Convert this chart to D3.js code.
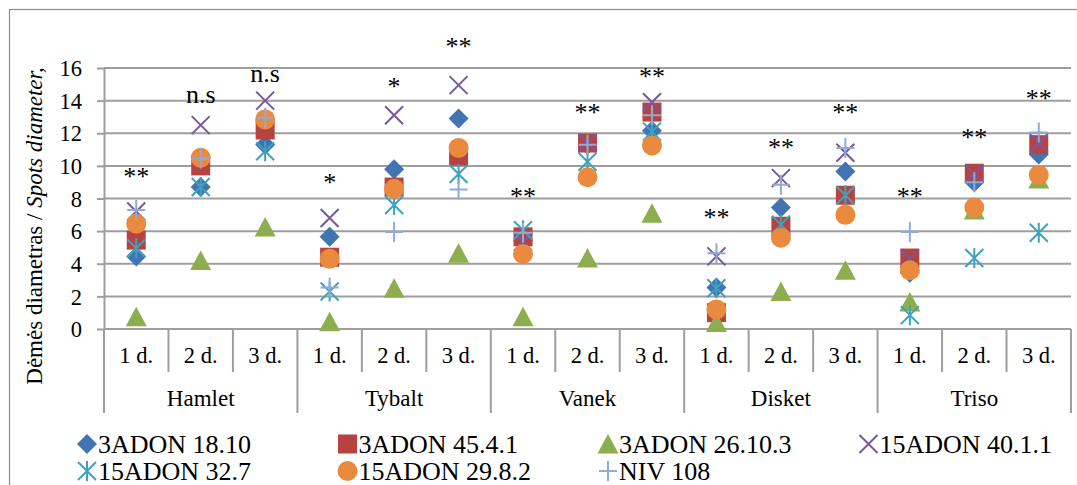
<!DOCTYPE html>
<html>
<head>
<meta charset="utf-8">
<script src="https://cdn.jsdelivr.net/npm/d3@7"></script>
<style>
  html, body { margin: 0; padding: 0; background: #fff; }
  svg { display: block; }
  svg text { font-family: "Liberation Serif", "Times New Roman", serif; }
</style>
</head>
<body>
<svg id="chart" width="1077" height="485" font-family="Liberation Serif, Times New Roman, serif"></svg>
<script>
// ---- data -------------------------------------------------------------
const cultivars = ["Hamlet", "Tybalt", "Vanek", "Disket", "Triso"];
const days = ["1 d.", "2 d.", "3 d."];
const yTickValues = [0, 2, 4, 6, 8, 10, 12, 14, 16];

// spot diameter per cultivar x day (Hamlet 1-3 d., Tybalt 1-3 d., ...)
const adon3_18_10   = [4.45, 8.7, 11.3, 5.65, 9.8, 12.9, 5.4, 11.3, 12.15, 2.55, 7.45, 9.65, 3.45, 9.0, 10.7];
const adon3_45_4_1  = [5.45, 10.0, 12.2, 4.4, 8.7, 10.6, 5.65, 11.4, 13.3, 1.0, 6.3, 8.2, 4.35, 9.55, 11.3];
const adon3_26_10_3 = [0.75, 4.2, 6.25, 0.45, 2.5, 4.65, 0.75, 4.35, 7.1, 0.4, 2.3, 3.6, 1.65, 7.3, 9.2];
const adon15_40_1_1 = [7.2, 12.5, 14.0, 6.8, 13.1, 14.95, 5.35, 11.4, 13.9, 4.45, 9.25, 10.8, 4.3, 9.5, 11.4];
const adon15_32_7   = [4.95, 8.7, 10.9, 2.3, 7.6, 9.5, 6.05, 10.25, 12.1, 2.5, 6.4, 8.2, 0.85, 4.35, 5.9];
const adon15_29_8_2 = [6.45, 10.5, 12.85, 4.3, 8.6, 11.1, 4.6, 9.3, 11.25, 1.2, 5.6, 7.0, 3.6, 7.45, 9.45];
const niv108        = [7.3, 10.45, 12.95, 2.55, 5.95, 8.55, 5.9, 11.3, 13.1, 4.65, 8.85, 11.1, 5.95, 9.0, 12.05];

// significance marks and the level (in axis units) of their baseline
const signifTexts  = ["**", "n.s", "n.s", "*", "*", "**", "**", "**", "**", "**", "**", "**", "**", "**", "**"];
const signifLevels = [8.83, 13.88, 15.16, 8.46, 14.35, 16.8, 7.6, 12.75, 14.96, 6.31, 10.6, 12.75, 7.6, 11.22, 13.6];

const seriesNames = ["3ADON 18.10", "3ADON 45.4.1", "3ADON 26.10.3", "15ADON 40.1.1",
                     "15ADON 32.7", "15ADON 29.8.2", "NIV 108"];
const seriesValues = [adon3_18_10, adon3_45_4_1, adon3_26_10_3, adon15_40_1_1,
                      adon15_32_7, adon15_29_8_2, niv108];

// ---- styling ----------------------------------------------------------
const seriesStyle = [
  { shape: "diamond",  color: "#4273B3" },
  { shape: "square",   color: "#B6433F" },
  { shape: "triangle", color: "#8DAE4E" },
  { shape: "x",        color: "#7658A0" },
  { shape: "star",     color: "#3CA3BE" },
  { shape: "circle",   color: "#EA8A3E" },
  { shape: "plus",     color: "#90AAD8" }
];

const FONT = "Liberation Serif, Times New Roman, serif";
const svg = d3.select("#chart");
const W = 1077, H = 485;
const gridColor = "#9e9e9e";

const categories = cultivars.flatMap(c => days.map(d => c + "|" + d));
const x = d3.scaleBand().domain(categories).range([104, 1071]).padding(0);
const y = d3.scaleLinear().domain([0, 16]).range([329, 68]);
const xl = x.range()[0], xr = x.range()[1];

// outer chart frame
svg.append("rect")
  .attr("x", 9.5).attr("y", 9.5)
  .attr("width", W + 20).attr("height", H + 20)
  .attr("fill", "none").attr("stroke", "#8c8c8c").attr("stroke-width", 1.2);

// horizontal gridlines
svg.append("g").selectAll("line")
  .data(yTickValues)
  .join("line")
  .attr("x1", xl).attr("x2", xr)
  .attr("y1", d => y(d)).attr("y2", d => y(d))
  .attr("stroke", gridColor).attr("stroke-width", 2);

// y axis
const yAxis = svg.append("g")
  .attr("transform", `translate(${xl},0)`)
  .call(d3.axisLeft(y).tickValues(yTickValues).tickFormat(d3.format("d"))
        .tickSizeInner(7).tickSizeOuter(0).tickPadding(15));
yAxis.attr("font-family", FONT);
yAxis.select(".domain").attr("stroke", gridColor).attr("stroke-width", 2);
yAxis.selectAll(".tick line").attr("stroke", gridColor).attr("stroke-width", 2);
yAxis.selectAll(".tick text")
  .attr("font-family", FONT)
  .attr("font-size", 22.5).attr("fill", "#000").attr("dy", "0.34em");
// axis line continues down through the category labels
svg.append("line")
  .attr("x1", xl).attr("x2", xl).attr("y1", y(0)).attr("y2", 413)
  .attr("stroke", gridColor).attr("stroke-width", 2);

// multi-level category axis
const bw = x.bandwidth();
svg.append("g").selectAll("line")
  .data(d3.range(categories.length + 1))
  .join("line")
  .attr("x1", i => xl + i * bw).attr("x2", i => xl + i * bw)
  .attr("y1", y(0))
  .attr("y2", i => (i % days.length === 0 ? 413 : 372))
  .attr("stroke", gridColor).attr("stroke-width", 2);

svg.append("g").selectAll("text")
  .data(categories)
  .join("text")
  .attr("x", d => x(d) + bw / 2).attr("y", 363)
  .attr("text-anchor", "middle").attr("font-family", FONT).attr("font-size", 22.5)
  .text(d => d.split("|")[1]);

svg.append("g").selectAll("text")
  .data(cultivars)
  .join("text")
  .attr("x", (d, i) => xl + (i * days.length + days.length / 2) * bw).attr("y", 406)
  .attr("text-anchor", "middle").attr("font-family", FONT).attr("font-size", 23)
  .text(d => d);

// y axis title
const yTitle = svg.append("text")
  .attr("transform", "translate(42,226) rotate(-90)")
  .attr("text-anchor", "middle").attr("font-family", FONT).attr("font-size", 23);
yTitle.append("tspan").text("Dėmės diametras / ");
yTitle.append("tspan").attr("font-style", "italic").text("Spots diameter,");

// ---- marker shapes ----------------------------------------------------
function drawMarker(g, shape, color) {
  switch (shape) {
    case "diamond":
      g.append("path").attr("d", "M0,-10L10,0L0,10L-10,0Z").attr("fill", color);
      break;
    case "square":
      g.append("rect").attr("x", -9.5).attr("y", -9.5).attr("width", 19).attr("height", 19).attr("fill", color);
      break;
    case "triangle":
      g.append("path").attr("d", "M0,-10L10.5,9.5L-10.5,9.5Z").attr("fill", color);
      break;
    case "circle":
      g.append("circle").attr("r", 10).attr("fill", color);
      break;
    case "x":
      g.append("path").attr("d", "M-9,-9L9,9M-9,9L9,-9")
        .attr("stroke", color).attr("stroke-width", 2).attr("fill", "none");
      break;
    case "star":
      g.append("path").attr("d", "M-9,-9L9,9M-9,9L9,-9M0,-10L0,10")
        .attr("stroke", color).attr("stroke-width", 2).attr("fill", "none");
      break;
    case "plus":
      g.append("path").attr("d", "M-9,0L9,0M0,-10L0,10")
        .attr("stroke", color).attr("stroke-width", 2).attr("fill", "none");
      break;
  }
}

// ---- points -----------------------------------------------------------
seriesValues.forEach((vals, si) => {
  const st = seriesStyle[si];
  svg.append("g").attr("class", "series")
    .selectAll("g")
    .data(vals)
    .join("g")
    .attr("transform", (v, i) => `translate(${x(categories[i]) + bw / 2},${y(v)})`)
    .each(function () { drawMarker(d3.select(this), st.shape, st.color); });
});

// significance labels
svg.append("g").selectAll("text")
  .data(signifTexts)
  .join("text")
  .attr("x", (d, i) => x(categories[i]) + bw / 2)
  .attr("y", (d, i) => y(signifLevels[i]))
  .attr("text-anchor", "middle").attr("font-family", FONT).attr("font-size", 26)
  .text(d => d);

// ---- legend -----------------------------------------------------------
const legend = svg.append("g").selectAll("g")
  .data(seriesNames)
  .join("g")
  .attr("transform", (d, i) => `translate(${87 + (i % 4) * 260.5},${444 + Math.floor(i / 4) * 27})`);
legend.each(function (d, i) { drawMarker(d3.select(this), seriesStyle[i].shape, seriesStyle[i].color); });
legend.append("text")
  .attr("x", 11).attr("y", 8.5)
  .attr("font-family", FONT).attr("font-size", 26)
  .text(d => d);
</script>
</body>
</html>
